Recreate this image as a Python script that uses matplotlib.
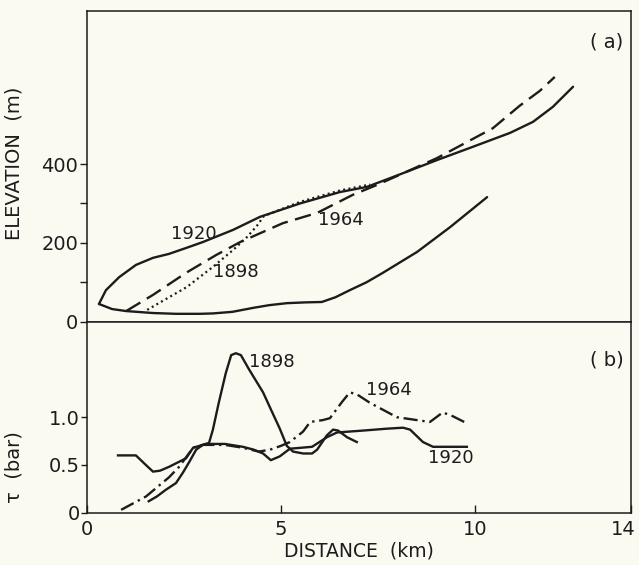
#!/usr/bin/env python3
"""Glacier profiles (a) and basal shear stress (b) along the flowline."""
import matplotlib as mpl
mpl.use("Agg")
import matplotlib.pyplot as plt
from matplotlib.ticker import FixedLocator
from matplotlib.transforms import ScaledTranslation

mpl.rcParams.update({
    "font.family": "DejaVu Sans",
    "axes.linewidth": 1.1,
    "xtick.labelsize": 14,
    "ytick.labelsize": 14,
    "axes.labelsize": 14,
})

BG = "#fbfaf1"
INK = "#1c1c1c"

# ---- (a) elevation (m) vs distance (km) ----
bed_km = [0.32, 0.66, 1.02, 1.71, 2.30, 2.92, 3.25, 3.75, 4.28, 4.70, 5.15,
          5.62, 6.05, 6.40, 6.77, 7.20, 7.62, 8.50, 9.35, 10.30]
bed_m = [45, 32, 27, 22, 20, 20, 21, 25, 35, 42, 47,
         49, 50, 62, 80, 100, 124, 177, 240, 316]

s1920_km = [0.32, 0.50, 0.84, 1.27, 1.71, 2.12, 2.56, 2.99, 3.77, 4.46, 5.49,
            6.52, 7.21, 7.88, 9.01, 9.86, 10.89, 11.48, 11.99, 12.51]
s1920_m = [45, 80, 113, 144, 162, 172, 187, 202, 233, 266, 300,
           329, 342, 367, 410, 441, 479, 507, 545, 596]

s1898_km = [1.56, 2.58, 3.25, 3.77, 4.13, 4.38, 4.56, 5.49, 6.52, 7.29]
s1898_m = [30, 88, 139, 182, 215, 243, 268, 304, 333, 348]

s1964_km = [1.02, 1.71, 2.56, 3.33, 3.95, 5.05, 5.93, 6.85, 7.47, 9.01,
            10.45, 11.14, 11.66, 12.04]
s1964_m = [27, 68, 124, 169, 202, 250, 276, 322, 347, 415,
           491, 548, 586, 621]

# ---- (b) basal shear stress tau (bar) vs distance (km) ----
t1898_km = [1.60, 1.81, 2.04, 2.30, 2.48, 2.64, 2.82, 2.99, 3.15, 3.25, 3.40,
            3.58, 3.72, 3.84, 3.97, 4.18, 4.54, 4.72, 4.97, 5.15, 5.31, 5.57,
            5.80, 5.93, 6.18, 6.34, 6.47, 6.70, 6.95]
t1898 = [0.12, 0.17, 0.24, 0.31, 0.42, 0.53, 0.66, 0.71, 0.73, 0.87, 1.15,
         1.46, 1.65, 1.67, 1.65, 1.50, 1.26, 1.10, 0.88, 0.70, 0.64, 0.62,
         0.62, 0.66, 0.81, 0.87, 0.86, 0.79, 0.74]

t1920_km = [0.81, 1.27, 1.50, 1.71, 1.89, 2.12, 2.56, 2.74, 3.07, 3.56, 4.02,
            4.30, 4.54, 4.74, 4.97, 5.23, 5.80, 6.18, 6.44, 7.11, 7.73, 8.14,
            8.32, 8.65, 8.91, 9.78]
t1920 = [0.60, 0.60, 0.51, 0.43, 0.44, 0.48, 0.57, 0.68, 0.72, 0.72, 0.69,
         0.66, 0.62, 0.55, 0.59, 0.67, 0.69, 0.79, 0.84, 0.86, 0.88, 0.89,
         0.87, 0.74, 0.69, 0.69]

t1964_km = [0.89, 1.53, 2.12, 2.38, 2.56, 2.74, 2.99, 3.56, 4.02, 4.43, 4.72,
            5.00, 5.23, 5.57, 5.75, 6.08, 6.26, 6.57, 6.77, 6.95, 7.29, 7.98,
            8.83, 9.16, 9.42, 9.81]
t1964 = [0.03, 0.17, 0.37, 0.48, 0.58, 0.68, 0.71, 0.71, 0.68, 0.64, 0.66,
         0.70, 0.74, 0.85, 0.95, 0.97, 0.99, 1.16, 1.26, 1.24, 1.15, 1.00,
         0.95, 1.05, 1.01, 0.93]

W, H = 639, 565
fig = plt.figure(figsize=(W / 100, H / 100), dpi=100, facecolor=BG)
left, right = 86.5 / W, 631.0 / W
ax1 = fig.add_axes([left, 1 - 321.7 / H, right - left, 311.0 / H])
ax2 = fig.add_axes([left, 1 - 512.7 / H, right - left, 191.0 / H])

for ax in (ax1, ax2):
    ax.set_facecolor(BG)
    ax.set_xlim(0, 14)
    for sp in ax.spines.values():
        sp.set_color(INK)

# (a)
lw = 1.7
ax1.plot(bed_km, bed_m, color=INK, lw=lw, solid_capstyle="round")
ax1.plot(s1920_km, s1920_m, color=INK, lw=lw, solid_capstyle="round")
ax1.plot(s1964_km, s1964_m, color=INK, lw=lw, linestyle=(0, (7, 3.2)))
ax1.plot(s1898_km, s1898_m, color=INK, lw=1.6, linestyle=(0, (0.9, 1.5)))

ax1.set_ylim(0, 789)
ax1.set_yticks([0, 200, 400])
ax1.yaxis.set_minor_locator(FixedLocator([100, 300]))
ax1.tick_params(axis="y", which="both", direction="out", length=5, width=1.0,
                pad=1, colors=INK)
ax1.tick_params(axis="x", which="both", bottom=False, labelbottom=False)
ax1.set_ylabel("ELEVATION  (m)", color=INK)
ax1.yaxis.set_label_coords(-0.115, 0.51)

ax1.text(2.77, 223, "1920", fontsize=13, ha="center", va="center", color=INK)
ax1.text(3.85, 126, "1898", fontsize=13, ha="center", va="center", color=INK)
ax1.text(6.54, 258, "1964", fontsize=13, ha="center", va="center", color=INK)
ax1.text(13.38, 710, "( a)", fontsize=14, ha="center", va="center", color=INK)

# (b)
ax2.plot(t1898_km, t1898, color=INK, lw=lw)
ax2.plot(t1920_km, t1920, color=INK, lw=lw)
ax2.plot(t1964_km, t1964, color=INK, lw=lw, linestyle=(0, (6, 2, 1, 2)))

ax2.set_ylim(0, 2.0)
ax2.set_yticks([0, 0.5, 1.0])
ax2.set_yticklabels(["0", "0.5", "1.0"])
ax2.tick_params(axis="y", direction="out", length=4, width=1.0, pad=1, colors=INK)
ax2.set_xticks([0, 5, 10, 14])
ax2.set_xticklabels(["0", "5", "10", "14"])
ax2.tick_params(axis="x", direction="in", length=6, width=1.0, pad=5, colors=INK)
# keep the last label inside the canvas
last = ax2.get_xticklabels()[-1]
last.set_transform(last.get_transform() + ScaledTranslation(-8 / 100, 0, fig.dpi_scale_trans))
ax2.set_xlabel("DISTANCE  (km)", color=INK, fontsize=13.5, labelpad=2)
ax2.set_ylabel("\u03c4  (bar)", color=INK)
ax2.yaxis.set_label_coords(-0.115, 0.24)

ax2.text(4.77, 1.58, "1898", fontsize=13, ha="center", va="center", color=INK)
ax2.text(7.78, 1.28, "1964", fontsize=13, ha="center", va="center", color=INK)
ax2.text(9.37, 0.57, "1920", fontsize=13, ha="center", va="center", color=INK)
ax2.text(13.38, 1.60, "( b)", fontsize=14, ha="center", va="center", color=INK)

fig.savefig("out.png", dpi=100, facecolor=BG)
